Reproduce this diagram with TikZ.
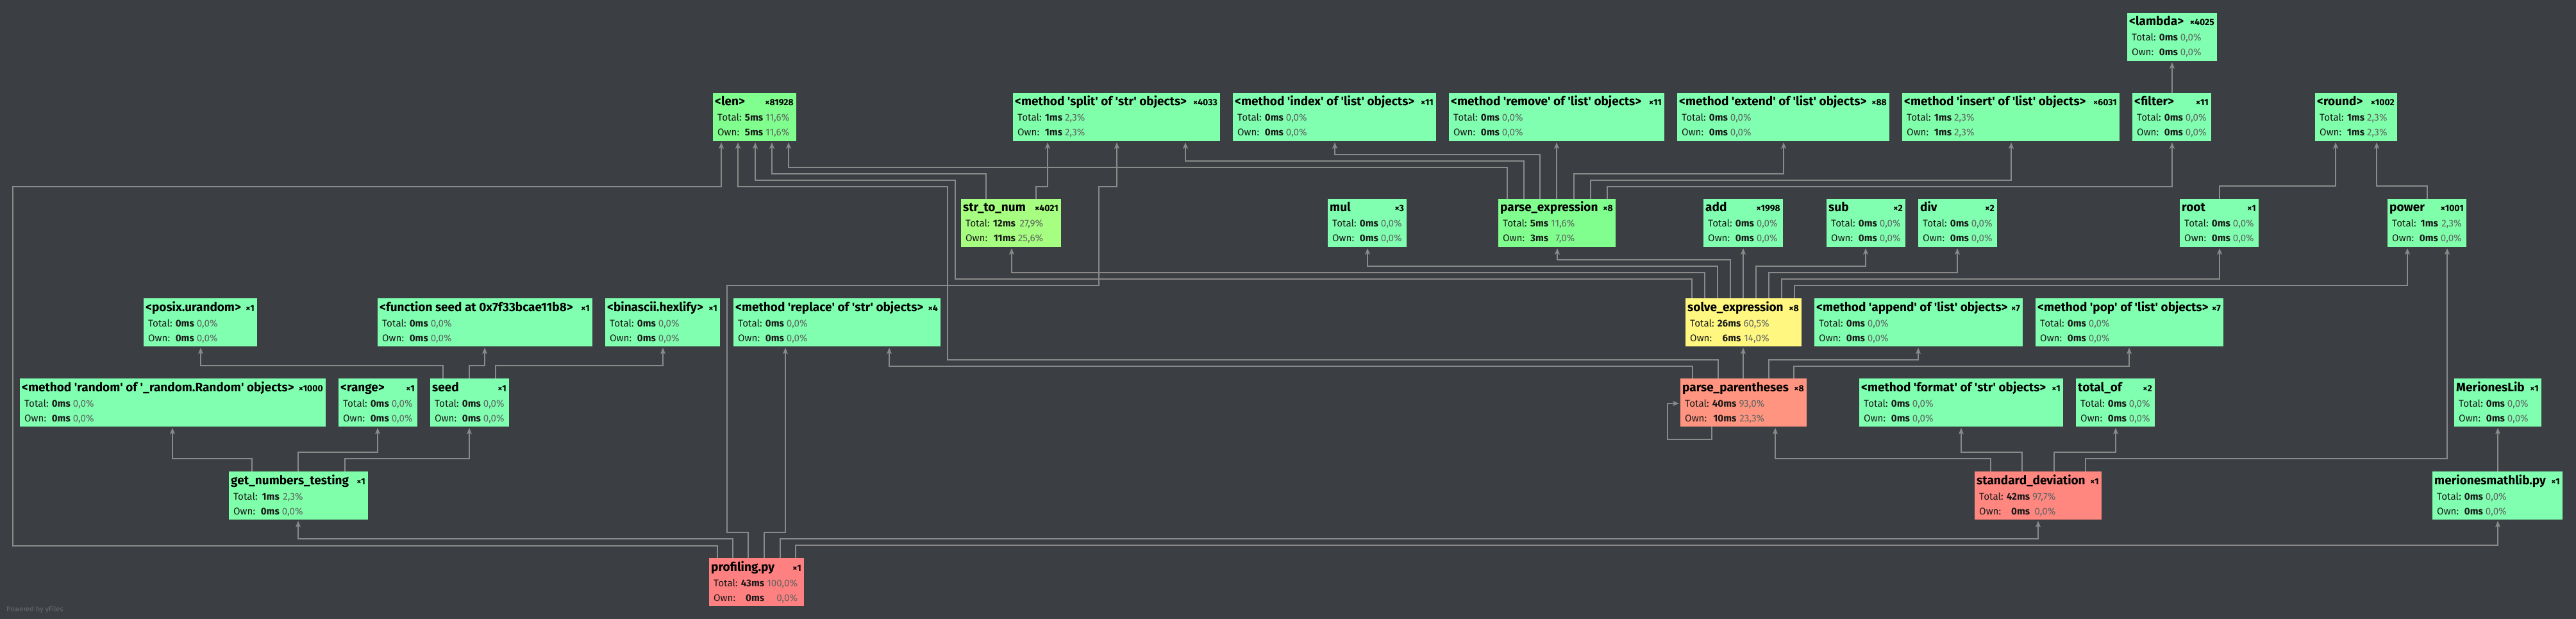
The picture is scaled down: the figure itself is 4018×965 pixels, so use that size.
\documentclass[tikz,border=0pt]{standalone}
\usepackage{fontspec}
\setmainfont{Fira Sans}
\usetikzlibrary{arrows.meta}

\definecolor{bgdark}{RGB}{59,62,66}
\definecolor{edgegray}{RGB}{138,138,138}
\definecolor{pcttxt}{RGB}{95,100,98}
\definecolor{stattxt}{RGB}{25,25,25}
\definecolor{credittxt}{RGB}{105,108,112}
\definecolor{c0}{RGB}{128,255,176}
\definecolor{c2}{RGB}{128,255,170}
\definecolor{c12}{RGB}{128,255,142}
\definecolor{c28}{RGB}{166,255,128}
\definecolor{c60}{RGB}{255,247,128}
\definecolor{c93}{RGB}{255,149,128}
\definecolor{c98}{RGB}{255,135,128}
\definecolor{c100}{RGB}{255,128,128}

\tikzset{
  callbox/.style={rectangle, inner sep=0pt, outer sep=0pt, minimum height=75pt},
  titletext/.style={inner sep=0pt, font=\fontsize{19}{22}\selectfont\bfseries},
  counttext/.style={inner sep=0pt, font=\fontsize{14}{16}\selectfont\bfseries},
  stattext/.style={inner sep=0pt, text=stattxt, font=\fontsize{15.2}{23}\selectfont},
  credit/.style={inner sep=0pt, text=credittxt, font=\fontsize{11}{13}\selectfont},
  call/.style={draw=edgegray, line width=1.3pt, -{Stealth[length=10pt,width=8pt,inset=2.5pt]}, shorten >=2pt},
}

\newcommand{\tq}{\textquotesingle}
% two rows: Total / Own
\newcommand{\callstats}[4]{\begin{tabular}[t]{@{}l@{\hspace{5pt}}r@{\hspace{4pt}}r@{}}Total: & \textbf{#1} & \textcolor{pcttxt}{#2\%}\\ Own: & \textbf{#3} & \textcolor{pcttxt}{#4\%}\end{tabular}}
% name, colour, left, top, width, title, count, stats
\newcommand{\callnode}[8]{%
  \node[callbox, fill=#2, minimum width=#5pt, anchor=north west] (#1) at (#3,#4) {};
  \node[titletext, anchor=base west] (#1-t) at ([xshift=3pt,yshift=-20pt]#1.north west) {#6};
  \node[counttext, anchor=base east] (#1-n) at ([xshift=-4pt,yshift=-20pt]#1.north east) {×#7};
  \node[stattext, anchor=base west] (#1-s) at ([xshift=7pt,yshift=-44pt]#1.north west) {#8};
}
\newcommand{\nostats}{\callstats{0ms}{0,0}{0ms}{0,0}}

\begin{document}
\begin{tikzpicture}[x=1pt, y=-1pt]
  % Background
  \fill[bgdark] (0,0) rectangle (4018,965);

  % Row 1
  \callnode{lambda}{c0}{3318}{20}{140}{<lambda>}{4025}{\nostats}

  % Row 2
  \callnode{len}{c12}{1112}{145}{130}{<len>}{81928}{\callstats{5ms}{11,6}{5ms}{11,6}}
  \callnode{split}{c2}{1580}{145}{323}{<method \tq split\tq{} of \tq str\tq{} objects>}{4033}{\callstats{1ms}{2,3}{1ms}{2,3}}
  \callnode{index}{c0}{1923}{145}{317}{<method \tq index\tq{} of \tq list\tq{} objects>}{11}{\nostats}
  \callnode{remove}{c0}{2260}{145}{336}{<method \tq remove\tq{} of \tq list\tq{} objects>}{11}{\nostats}
  \callnode{extend}{c0}{2616}{145}{331}{<method \tq extend\tq{} of \tq list\tq{} objects>}{88}{\nostats}
  \callnode{insert}{c2}{2967}{145}{339}{<method \tq insert\tq{} of \tq list\tq{} objects>}{6031}{\callstats{1ms}{2,3}{1ms}{2,3}}
  \callnode{filter}{c0}{3326}{145}{123}{<filter>}{11}{\nostats}
  \callnode{round}{c2}{3611}{145}{128}{<round>}{1002}{\callstats{1ms}{2,3}{1ms}{2,3}}

  % Row 3
  \callnode{stn}{c28}{1499}{310}{156}{str\_to\_num}{4021}{\callstats{12ms}{27,9}{11ms}{25,6}}
  \callnode{mul}{c0}{2071}{310}{123}{mul}{3}{\nostats}
  \callnode{pexpr}{c12}{2337}{310}{183}{parse\_expression}{8}{\callstats{5ms}{11,6}{3ms}{7,0}}
  \callnode{add}{c0}{2657}{310}{124}{add}{1998}{\nostats}
  \callnode{sub}{c0}{2849}{310}{123}{sub}{2}{\nostats}
  \callnode{div}{c0}{2992}{310}{123}{div}{2}{\nostats}
  \callnode{root}{c0}{3400}{310}{123}{root}{1}{\nostats}
  \callnode{power}{c2}{3724}{310}{123}{power}{1001}{\callstats{1ms}{2,3}{0ms}{0,0}}

  % Row 4
  \callnode{urandom}{c0}{224}{465}{177}{<posix.urandom>}{1}{\nostats}
  \callnode{fseed}{c0}{589}{465}{335}{<function seed at 0x7f33bcae11b8>}{1}{\nostats}
  \callnode{hexlify}{c0}{944}{465}{179}{<binascii.hexlify>}{1}{\nostats}
  \callnode{replace}{c0}{1144}{465}{323}{<method \tq replace\tq{} of \tq str\tq{} objects>}{4}{\nostats}
  \callnode{solve}{c60}{2629}{465}{181}{solve\_expression}{8}{\callstats{26ms}{60,5}{6ms}{14,0}}
  \callnode{append}{c0}{2830}{465}{325}{<method \tq append\tq{} of \tq list\tq{} objects>}{7}{\nostats}
  \callnode{pop}{c0}{3175}{465}{293}{<method \tq pop\tq{} of \tq list\tq{} objects>}{7}{\nostats}

  % Row 5
  \callnode{random}{c0}{31}{590}{477}{<method \tq random\tq{} of \tq\_random.Random\tq{} objects>}{1000}{\nostats}
  \callnode{range}{c0}{528}{590}{123}{<range>}{1}{\nostats}
  \callnode{seed}{c0}{671}{590}{123}{seed}{1}{\nostats}
  \callnode{pp}{c93}{2621}{590}{197}{parse\_parentheses}{8}{\callstats{40ms}{93,0}{10ms}{23,3}}
  \callnode{format}{c0}{2900}{590}{318}{<method \tq format\tq{} of \tq str\tq{} objects>}{1}{\nostats}
  \callnode{totalof}{c0}{3238}{590}{123}{total\_of}{2}{\nostats}
  \callnode{mlib}{c0}{3828}{590}{136}{MerionesLib}{1}{\nostats}

  % Row 6
  \callnode{gnt}{c2}{357}{735}{217}{get\_numbers\_testing}{1}{\callstats{1ms}{2,3}{0ms}{0,0}}
  \callnode{std}{c98}{3080}{735}{198}{standard\_deviation}{1}{\callstats{42ms}{97,7}{0ms}{0,0}}
  \callnode{mml}{c0}{3794}{735}{203}{merionesmathlib.py}{1}{\nostats}

  % Row 7
  \callnode{prof}{c100}{1106}{870}{148}{profiling.py}{1}{\callstats{43ms}{100,0}{0ms}{0,0}}

  \node[credit, anchor=base west] (credit) at (10,953) {Powered by yFiles};

  % Calls of profiling.py
  \draw[call] ([xshift=13pt]prof.north west) -- ++(0,-19) -- ++(-1099,0) -- ++(0,-560) -| ([xshift=13pt]len.south west);
  \draw[call] ([xshift=37pt]prof.north west) -- ++(0,-30) -| ([xshift=108pt]gnt.south west);
  \draw[call] ([xshift=61pt]prof.north west) -- ++(0,-40) -- ++(-33,0) -- ++(0,-385) -- ++(580,0) -- ++(0,-154) -| ([xshift=162pt]split.south west);
  \draw[call] ([xshift=86pt]prof.north west) -- ++(0,-40) -| ([xshift=81pt]replace.south west);
  \draw[call] ([xshift=111pt]prof.north west) -- ++(0,-30) -| ([xshift=99pt]std.south west);
  \draw[call] ([xshift=135pt]prof.north west) -- ++(0,-20) -| ([xshift=102pt]mml.south west);

  % get_numbers_testing and seed
  \draw[call] ([xshift=36pt]gnt.north west) -- ++(0,-20) -| ([xshift=238pt]random.south west);
  \draw[call] ([xshift=108pt]gnt.north west) -- ++(0,-30) -| ([xshift=61pt]range.south west);
  \draw[call] ([xshift=181pt]gnt.north west) -- ++(0,-20) -| ([xshift=61pt]seed.south west);
  \draw[call] ([xshift=20pt]seed.north west) -- ++(0,-20) -| ([xshift=89pt]urandom.south west);
  \draw[call] ([xshift=61pt]seed.north west) -- ++(0,-20) -| ([xshift=167pt]fseed.south west);
  \draw[call] ([xshift=102pt]seed.north west) -- ++(0,-20) -| ([xshift=90pt]hexlify.south west);

  % str_to_num and parse_expression
  \draw[call] ([xshift=39pt]stn.north west) -- ++(0,-39) -| ([xshift=92pt]len.south west);
  \draw[call] ([xshift=117pt]stn.north west) -- ++(0,-19) -| ([xshift=54pt]split.south west);
  \draw[call] ([xshift=14pt]pexpr.north west) -- ++(0,-49) -| ([xshift=118pt]len.south west);
  \draw[call] ([xshift=40pt]pexpr.north west) -- ++(0,-59) -| ([xshift=269pt]split.south west);
  \draw[call] ([xshift=65pt]pexpr.north west) -- ++(0,-69) -| ([xshift=159pt]index.south west);
  \draw[call] ([xshift=91pt]pexpr.north west) -- ([xshift=168pt]remove.south west);
  \draw[call] ([xshift=118pt]pexpr.north west) -- ++(0,-39) -| ([xshift=166pt]extend.south west);
  \draw[call] ([xshift=144pt]pexpr.north west) -- ++(0,-29) -| ([xshift=170pt]insert.south west);
  \draw[call] ([xshift=170pt]pexpr.north west) -- ++(0,-19) -| ([xshift=62pt]filter.south west);
  \draw[call] ([xshift=62pt]filter.north west) -- (lambda.south);
  \draw[call] ([xshift=62pt]root.north west) -- ++(0,-20) -| ([xshift=32pt]round.south west);
  \draw[call] ([xshift=62pt]power.north west) -- ++(0,-20) -| ([xshift=96pt]round.south west);

  % solve_expression
  \draw[call] ([xshift=10pt]solve.north west) -- ++(0,-30) -- ++(-1149,0) -- ++(0,-154) -| ([xshift=66pt]len.south west);
  \draw[call] ([xshift=30pt]solve.north west) -- ++(0,-40) -| ([xshift=79pt]stn.south west);
  \draw[call] ([xshift=50pt]solve.north west) -- ++(0,-50) -| ([xshift=62pt]mul.south west);
  \draw[call] ([xshift=70pt]solve.north west) -- ++(0,-60) -| ([xshift=92pt]pexpr.south west);
  \draw[call] ([xshift=90pt]solve.north west) -- ([xshift=62pt]add.south west);
  \draw[call] ([xshift=110pt]solve.north west) -- ++(0,-50) -| ([xshift=61pt]sub.south west);
  \draw[call] ([xshift=130pt]solve.north west) -- ++(0,-40) -| ([xshift=61pt]div.south west);
  \draw[call] ([xshift=150pt]solve.north west) -- ++(0,-30) -| ([xshift=62pt]root.south west);
  \draw[call] ([xshift=170pt]solve.north west) -- ++(0,-20) -| ([xshift=31pt]power.south west);

  % parse_parentheses
  \draw[call] ([xshift=19pt]pp.north west) -- ++(0,-19) -| ([xshift=243pt]replace.south west);
  \draw[call] ([xshift=59pt]pp.north west) -- ++(0,-29) -- ++(-1202,0) -- ++(0,-270) -| ([xshift=39pt]len.south west);
  \draw[call] ([xshift=98pt]pp.north west) -- ([xshift=90pt]solve.south west);
  \draw[call] ([xshift=138pt]pp.north west) -- ++(0,-29) -| ([xshift=162pt]append.south west);
  \draw[call] ([xshift=177pt]pp.north west) -- ++(0,-19) -| ([xshift=146pt]pop.south west);
  \draw[call] ([xshift=49pt]pp.south west) -- ++(0,20) -- ++(-69,0) |- ([yshift=-39pt]pp.north west);

  % standard_deviation and merionesmathlib.py
  \draw[call] ([xshift=25pt]std.north west) -- ++(0,-20) -| ([xshift=148pt]pp.south west);
  \draw[call] ([xshift=74pt]std.north west) -- ++(0,-30) -| ([xshift=159pt]format.south west);
  \draw[call] ([xshift=124pt]std.north west) -- ++(0,-30) -| ([xshift=62pt]totalof.south west);
  \draw[call] ([xshift=173pt]std.north west) -- ++(0,-20) -| ([xshift=93pt]power.south west);
  \draw[call] ([xshift=102pt]mml.north west) -- ([xshift=68pt]mlib.south west);
\end{tikzpicture}
\end{document}
